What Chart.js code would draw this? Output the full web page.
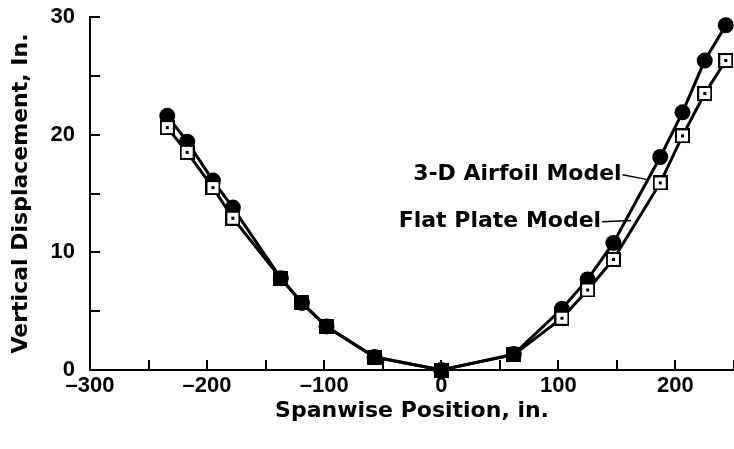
<!DOCTYPE html>
<html>
<head>
<meta charset="utf-8">
<script src="https://cdn.jsdelivr.net/npm/chart.js@4.4.1/dist/chart.umd.min.js"></script>
<style>
  html, body { margin: 0; padding: 0; background: #fff; }
  #wrap { width: 734px; height: 449px; position: relative; }
</style>
</head>
<body>
<div id="wrap"><canvas id="chart"></canvas></div>
<script>
// spanwise stations (in.) shared by both models
const spanwise = [-234, -217, -195, -178, -137, -119, -98, -57, 0, 62, 103, 125, 147, 187, 206, 225, 243];
const airfoil3D = [21.6, 19.4, 16.1, 13.8, 7.8, 5.7, 3.7, 1.1, 0, 1.35, 5.2, 7.7, 10.8, 18.1, 21.9, 26.3, 29.3];
const flatPlate = [20.6, 18.5, 15.5, 12.9, 7.8, 5.7, 3.7, 1.1, 0, 1.3, 4.4, 6.8, 9.4, 15.9, 19.9, 23.5, 26.3];

const xMin = -300, xMax = 250, xStep = 50, xLabelEvery = 100;
const yMin = 0, yMax = 30, yStep = 5, yLabelEvery = 10;

const seriesNames = ["3-D Airfoil Model", "Flat Plate Model"];
// where the labels sit and where their leader lines end (data units)
const labelAt = [[154, 16.6], [136.5, 12.6]];
const leaderTo = [[175, 16.2], [162, 12.7]];

const titleFont = { family: "DejaVu Sans", weight: "bold", size: 22 };
const tickFont = { family: "Liberation Sans", weight: "bold", size: 22 };

// open square with a dot, and a solid square where the two curves coincide
function makeSquare(solid) {
  const c = document.createElement("canvas");
  c.width = 15; c.height = 15;
  const g = c.getContext("2d");
  g.fillStyle = "#000";
  g.fillRect(0, 0, 15, 15);
  if (!solid) {
    g.fillStyle = "#fff";
    g.fillRect(2, 2, 11, 11);
    g.fillStyle = "#000";
    g.fillRect(6, 6, 3, 3);
  }
  return c;
}
const openSquare = makeSquare(false);
const solidSquare = makeSquare(true);
const squareStyles = flatPlate.map((v, i) => (Math.abs(v - airfoil3D[i]) < 0.5 ? solidSquare : openSquare));

const inwardTicks = {
  id: "inwardTicks",
  afterDraw(chart) {
    const { ctx, chartArea, scales } = chart;
    ctx.save();
    ctx.strokeStyle = "#000";
    ctx.lineWidth = 2;
    ctx.beginPath();
    scales.x.ticks.forEach(t => {
      const px = Math.round(scales.x.getPixelForValue(t.value));
      ctx.moveTo(px, chartArea.bottom);
      ctx.lineTo(px, chartArea.bottom - 10);
    });
    scales.y.ticks.forEach(t => {
      const py = Math.round(scales.y.getPixelForValue(t.value));
      ctx.moveTo(chartArea.left, py);
      ctx.lineTo(chartArea.left + 10, py);
    });
    ctx.stroke();

    // series labels with leader lines
    ctx.font = "bold 22px 'DejaVu Sans'";
    ctx.fillStyle = "#000";
    ctx.textAlign = "right";
    ctx.textBaseline = "middle";
    ctx.lineWidth = 1.5;
    seriesNames.forEach((name, i) => {
      const tx = scales.x.getPixelForValue(labelAt[i][0]);
      const ty = scales.y.getPixelForValue(labelAt[i][1]);
      ctx.fillText(name, tx, ty);
      ctx.beginPath();
      ctx.moveTo(tx + 1, ty);
      ctx.lineTo(scales.x.getPixelForValue(leaderTo[i][0]), scales.y.getPixelForValue(leaderTo[i][1]));
      ctx.stroke();
    });
    ctx.restore();
  }
};

new Chart(document.getElementById("chart"), {
  type: "line",
  data: {
    datasets: [
      {
        label: seriesNames[1],
        data: spanwise.map((x, i) => ({ x, y: flatPlate[i] })),
        borderColor: "#000",
        borderWidth: 3,
        pointStyle: squareStyles,
        pointRadius: 7,
        clip: false
      },
      {
        label: seriesNames[0],
        data: spanwise.map((x, i) => ({ x, y: airfoil3D[i] })),
        borderColor: "#000",
        borderWidth: 3,
        backgroundColor: "#000",
        pointStyle: "circle",
        pointRadius: 8,
        pointBackgroundColor: "#000",
        pointBorderWidth: 0,
        clip: false
      }
    ]
  },
  options: {
    responsive: true,
    maintainAspectRatio: false,
    animation: false,
    layout: { autoPadding: false, padding: { top: 17, right: 0, left: 0, bottom: 0 } },
    plugins: { legend: { display: false }, tooltip: { enabled: false } },
    scales: {
      x: {
        type: "linear",
        min: xMin,
        max: xMax,
        afterFit(scale) {
          scale.height = 79;
          scale.paddingLeft = 0;
          scale.paddingRight = 0;
        },
        border: { display: true, color: "#000", width: 2 },
        grid: { display: false, drawTicks: false },
        ticks: {
          stepSize: xStep,
          padding: 3,
          color: "#000",
          font: tickFont,
          maxRotation: 0,
          autoSkip: false,
          callback: v => (v % xLabelEvery === 0 ? String(v).replace("-", "\u2013") : "")
        },
        title: {
          display: true,
          text: "Spanwise Position, in.",
          color: "#000",
          font: titleFont,
          padding: { top: 0, bottom: 25 }
        }
      },
      y: {
        type: "linear",
        min: yMin,
        max: yMax,
        afterFit(scale) {
          scale.width = 90;
          scale.paddingTop = 0;
          scale.paddingBottom = 0;
        },
        border: { display: true, color: "#000", width: 2 },
        grid: { display: false, drawTicks: false },
        ticks: {
          stepSize: yStep,
          padding: 15,
          color: "#000",
          font: tickFont,
          autoSkip: false,
          callback: v => (v % yLabelEvery === 0 ? String(v) : "")
        },
        title: {
          display: true,
          text: "Vertical Displacement, In.",
          color: "#000",
          font: titleFont,
          padding: { top: 8, bottom: 0 }
        }
      }
    }
  },
  plugins: [inwardTicks]
});
</script>
</body>
</html>
